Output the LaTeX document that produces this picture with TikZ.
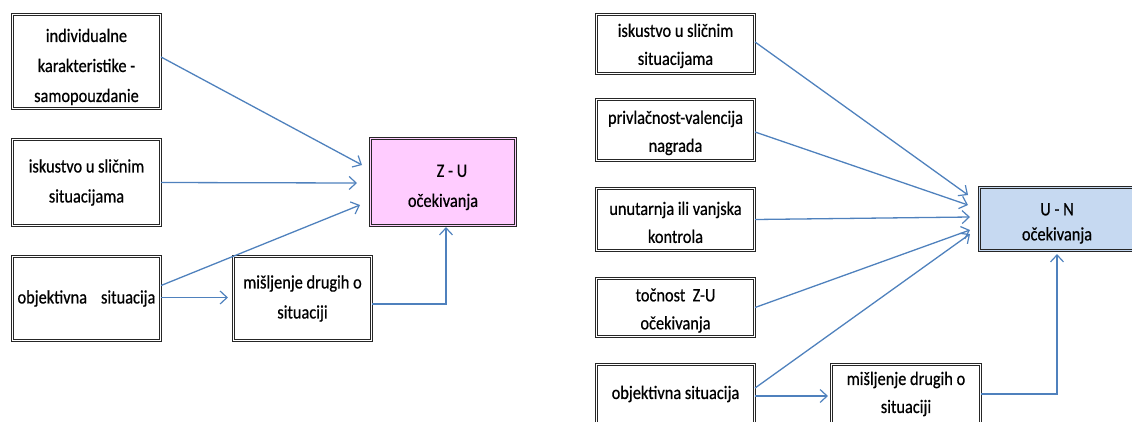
\documentclass[tikz,border=0pt]{standalone}
\usepackage{fontspec}
\setmainfont{Carlito}[FakeStretch=0.86, FakeBold=0.6]
\usetikzlibrary{arrows.meta}
\definecolor{arrowblue}{HTML}{4F81BD}
\definecolor{zupink}{HTML}{FFCCFF}
\definecolor{unblue}{HTML}{C6D9F1}
\begin{document}
\begin{tikzpicture}[x=1pt,y=-1pt,
  boxbase/.style={draw=black!85, line width=1.1pt, double=white, double distance=1.4pt,
    align=center, inner sep=0pt},
  boxL/.style={boxbase, font=\fontsize{19}{30}\selectfont},
  boxR/.style={boxbase, font=\fontsize{19}{28}\selectfont},
  conn/.style={draw=arrowblue, line width=1.3pt,
    -{Straight Barb[length=7pt,width=13pt,line width=1.2pt]}}]
\useasboundingbox (0,0) rectangle (1132,421);

% ---------- left diagram ----------
\node[boxL, minimum width=148, minimum height=94] (b1) at (86.5,61.5)
  {\rule{0pt}{24pt}individualne\\karakteristike -\\samopouzdanie};
\node[boxL, minimum width=148, minimum height=86] (b2) at (86.5,182.5)
  {iskustvo u sličnim\\situacijama};
\node[boxL, minimum width=148, minimum height=84] (b3) at (86.5,298.5)
  {objektivna\hspace{14pt}situacija};
\node[boxL, minimum width=138, minimum height=84] (mL) at (302.5,298.5)
  {mišljenje drugih o\\situaciji};
\node[boxL, fill=zupink, double=zupink, minimum width=145, minimum height=87] (zu) at (443,182)
  {\rule{0pt}{23pt}\hspace*{18pt}Z - U\\očekivanja};

\coordinate (t1) at (362,165);
\coordinate (t2) at (357,183);
\coordinate (t3) at (360,205);

\draw[conn] ([yshift=4.5pt]b1.east) -- (t1);
\draw[conn] (b2.east) -- (t2);
\draw[conn] ([yshift=13pt]b3.east) -- (t3);
\draw[conn, shorten >=5pt] ([yshift=1pt]b3.east) -- ([yshift=1pt]mL.west);
\draw[conn, shorten >=1pt] ([yshift=-5.5pt]mL.east) -| ([xshift=3pt]zu.south);

% ---------- right diagram ----------
\node[boxR, minimum width=158, minimum height=59] (r1) at (675.5,44)
  {\rule{0pt}{17pt}iskustvo u sličnim\\situacijama};
\node[boxR, minimum width=158, minimum height=61] (r2) at (675.5,130)
  {\rule{0pt}{19pt}privlačnost-valencija\\nagrada};
\node[boxR, minimum width=158, minimum height=62] (r3) at (675.5,219.5)
  {\rule{0pt}{19pt}unutarnja ili vanjska\\kontrola};
\node[boxR, minimum width=158, minimum height=58] (r4) at (675.5,307.5)
  {\rule{0pt}{19pt}točnost\ \ Z-U\\očekivanja};
\node[boxR, minimum width=158, minimum height=59] (r5) at (675.5,394)
  {objektivna situacija};
\node[boxR, minimum width=149, minimum height=59] (mR) at (906,394)
  {mišljenje drugih o\\situaciji};
\node[boxR, fill=unblue, double=unblue, minimum width=155, minimum height=63] (un) at (1057,219)
  {\rule{0pt}{21pt}U - N\\[-3pt]očekivanja};

\coordinate (s1) at (968,195);
\coordinate (s2) at (968,205);
\coordinate (s3) at (970,217);
\coordinate (s4) at (970,230);
\coordinate (s5) at (970,234);

\draw[conn] ([yshift=2pt]r1.east) -- (s1);
\draw[conn] ([yshift=-2pt]r2.east) -- (s2);
\draw[conn] (r3.east) -- (s3);
\draw[conn] (r4.east) -- (s4);
\draw[conn] ([yshift=6pt]r5.east) -- (s5);
\draw[conn, shorten >=3pt] ([yshift=-2pt]r5.east) -- ([yshift=-2pt]mR.west);
\draw[conn, shorten >=3pt] (mR.east) -| (un.south);
\end{tikzpicture}
\end{document}
